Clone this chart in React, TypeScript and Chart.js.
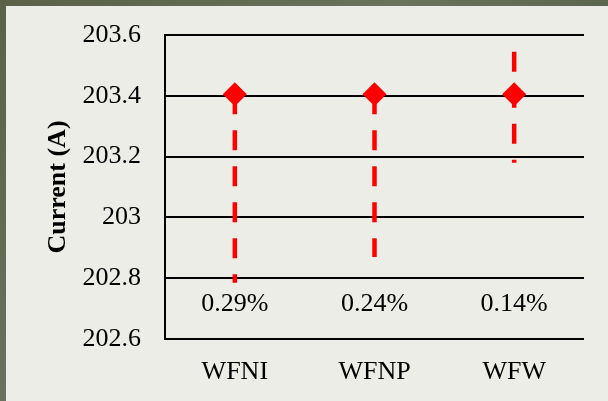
import React, { useEffect, useRef } from 'react';
import { Chart, registerables } from 'chart.js';

Chart.register(...registerables);

const categories = ['WFNI', 'WFNP', 'WFW'];
const currentValues = [203.405, 203.405, 203.405];
const errorUpper = [203.405, 203.405, 203.545];
const errorLower = [202.785, 202.87, 203.18];
const percentLabels = ['0.29%', '0.24%', '0.14%'];
const percentLabelLevel = 202.715;
const yTickLabels = ['202.6', '202.8', '203', '203.2', '203.4', '203.6'];
const yMin = 202.6;
const yMax = 203.6;
const yStep = 0.2;

const FONT = '"Liberation Serif", "Times New Roman", serif';

const errorBarPlugin = {
  id: 'errorBarsAndLabels',
  beforeDatasetsDraw(chart: any) {
    const { ctx, scales } = chart;
    const x = scales.x;
    const y = scales.y;
    ctx.save();
    ctx.strokeStyle = '#ff0000';
    ctx.lineWidth = 4.5;
    ctx.lineCap = 'butt';
    ctx.setLineDash([20, 16]);
    categories.forEach((_c, i) => {
      const px = x.getPixelForValue(i);
      ctx.beginPath();
      ctx.moveTo(px, y.getPixelForValue(errorUpper[i]));
      ctx.lineTo(px, y.getPixelForValue(errorLower[i]));
      ctx.stroke();
    });
    ctx.restore();
  },
  afterDatasetsDraw(chart: any) {
    const { ctx, scales } = chart;
    const x = scales.x;
    const y = scales.y;
    ctx.save();
    ctx.fillStyle = '#000000';
    ctx.font = `26px ${FONT}`;
    ctx.textAlign = 'center';
    ctx.textBaseline = 'middle';
    percentLabels.forEach((t, i) => {
      ctx.fillText(t, x.getPixelForValue(i), y.getPixelForValue(percentLabelLevel));
    });
    ctx.restore();
  },
};

export default function App() {
  const ref = useRef<HTMLCanvasElement | null>(null);

  useEffect(() => {
    if (!ref.current) return;
    const chart = new Chart(ref.current, {
      type: 'line',
      data: {
        labels: categories,
        datasets: [
          {
            label: 'Current',
            data: currentValues,
            showLine: false,
            pointStyle: 'rectRot',
            pointRadius: 12,
            pointHoverRadius: 12,
            pointBorderWidth: 0,
            backgroundColor: '#ff0000',
            borderColor: '#ff0000',
          },
        ],
      },
      options: {
        responsive: false,
        animation: false,
        layout: { padding: { top: 35, right: 24, bottom: 0, left: 0 } },
        plugins: {
          legend: { display: false },
          tooltip: { enabled: false },
        },
        scales: {
          x: {
            type: 'category',
            offset: true,
            grid: { display: false, drawTicks: false },
            border: { display: false },
            ticks: {
              color: '#000000',
              padding: 18,
              font: { family: FONT, size: 26 },
            },
            afterFit: (s: any) => {
              s.height = 62;
            },
          },
          y: {
            min: yMin,
            max: yMax,
            ticks: {
              stepSize: yStep,
              padding: 24,
              color: '#000000',
              font: { family: FONT, size: 26 },
              callback: (_v: any, i: number) => yTickLabels[i],
            },
            grid: { color: '#000000', lineWidth: 2, drawTicks: false },
            border: { display: true, color: '#000000', width: 2 },
            title: {
              display: true,
              text: 'Current (A)',
              color: '#000000',
              font: { family: FONT, size: 26, weight: 'bold' },
              padding: { top: 43, bottom: 0 },
            },
            afterFit: (s: any) => {
              s.width = 165;
              s.paddingTop = 0;
              s.paddingBottom = 0;
            },
          },
        },
      },
      plugins: [errorBarPlugin],
    } as any);
    return () => chart.destroy();
  }, []);

  return (
    <div
      style={{
        position: 'fixed',
        left: 0,
        top: 0,
        width: 608,
        height: 401,
        background: 'linear-gradient(135deg, #5a6148 0%, #6b725c 40%, #566048 70%, #646b55 100%)',
        overflow: 'hidden',
      }}
    >
      <div
        style={{
          position: 'absolute',
          left: 6,
          top: 6,
          right: 0,
          bottom: 0,
          background: '#ecede7',
        }}
      />
      <canvas
        ref={ref}
        width={608}
        height={401}
        style={{ position: 'absolute', left: 0, top: 0, width: 608, height: 401 }}
      />
    </div>
  );
}
